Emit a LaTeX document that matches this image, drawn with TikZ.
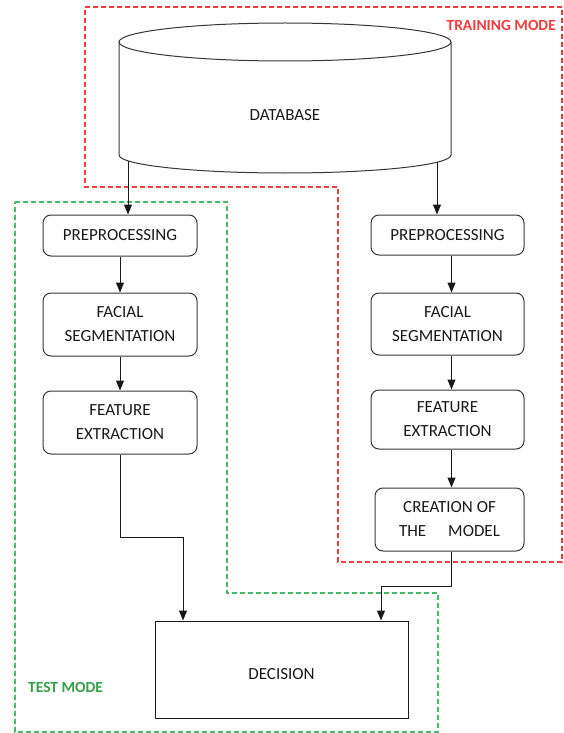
\documentclass[tikz,border=0pt]{standalone}
\usepackage{fontspec}
\setmainfont{Carlito}
\usetikzlibrary{arrows.meta}
\definecolor{tred}{RGB}{245,60,60}
\definecolor{tgreen}{RGB}{70,185,100}
\definecolor{tgtext}{RGB}{50,160,70}
\definecolor{lin}{RGB}{55,55,55}
\begin{document}
\begin{tikzpicture}[x=1pt,y=1pt,
  box/.style={draw=lin, line width=1pt, rounded corners=8pt, align=center,
    font=\fontsize{17}{24}\selectfont, text=black!90, inner sep=0pt},
  arr/.style={draw=black!90, line width=1pt, -{Triangle[length=10pt,width=8pt]}},
  zone/.style={line width=1.1pt, dash pattern=on 5pt off 3pt},
  lbl/.style={font=\fontsize{15.5}{18}\selectfont\bfseries, inner sep=0pt}]
\useasboundingbox (0,0) rectangle (564,-733);
% zones
\draw[zone, tred] (85,-7) -- (562,-7) -- (562,-562) -- (338,-562) -- (338,-187) -- (85,-187) -- cycle;
\draw[zone, tgreen] (15,-202) -- (227,-202) -- (227,-593) -- (438,-593) -- (438,-732) -- (15,-732) -- cycle;
\node[lbl, text=tred, anchor=east] (trm) at (556,-25) {TRAINING MODE};
\node[lbl, text=tgtext, anchor=west] (tsm) at (28,-687) {TEST MODE};
% database cylinder
\draw[lin, line width=1pt, fill=white] (119,-42) -- (119,-155) arc[start angle=180, end angle=360, x radius=166, y radius=18] -- (451,-42);
\draw[lin, line width=1pt, fill=white] (285,-42) ellipse[x radius=166, y radius=19];
\node[font=\fontsize{17}{24}\selectfont, text=black!90] (db) at (285,-115) {DATABASE};
\coordinate (dbl) at (128,-161);
\coordinate (dbr) at (437,-162);
% left column
\node[box, minimum width=154pt, minimum height=41pt] (pr1) at (120,-235.5) {PREPROCESSING};
\node[box, minimum width=154pt, minimum height=63pt] (fs1) at (120,-324.5) {FACIAL\\SEGMENTATION};
\node[box, minimum width=154pt, minimum height=63pt] (fe1) at (120,-422.5) {FEATURE\\EXTRACTION};
% right column
\node[box, minimum width=153pt, minimum height=40pt] (pr2) at (447.5,-235) {PREPROCESSING};
\node[box, minimum width=153pt, minimum height=62pt] (fs2) at (447.5,-324) {FACIAL\\SEGMENTATION};
\node[box, minimum width=153pt, minimum height=59pt] (fe2) at (447.5,-419.5) {FEATURE\\EXTRACTION};
\node[box, minimum width=149pt, minimum height=63pt] (cr) at (449.5,-519.5) {CREATION OF\\THE\hspace{22pt}MODEL};
% decision
\node[draw=black!90, line width=1pt, minimum width=253pt, minimum height=97pt,
  font=\fontsize{17}{24}\selectfont, text=black!90, inner sep=0pt] (dec) at (281.5,-669.5) {\raisebox{-10pt}[0pt][0pt]{DECISION}};
% connectors
\draw[arr] (dbl) -- (dbl |- pr1.north);
\draw[arr] (dbr) -- (dbr |- pr2.north);
\draw[arr] (pr1) -- (fs1);
\draw[arr] (fs1) -- (fe1);
\draw[arr] ([xshift=4pt]pr2.south) -- ([xshift=4pt]fs2.north);
\draw[arr] ([xshift=4pt]fs2.south) -- ([xshift=4pt]fe2.north);
\draw[arr] ([xshift=4pt]fe2.south) -- ([xshift=2pt]cr.north);
\draw[arr] (fe1.south) -- ++(0,-83) -| ([xshift=-98.5pt]dec.north);
\draw[arr] ([xshift=1.5pt]cr.south) -- ++(0,-35) -| ([xshift=99.5pt]dec.north);
\end{tikzpicture}
\end{document}
